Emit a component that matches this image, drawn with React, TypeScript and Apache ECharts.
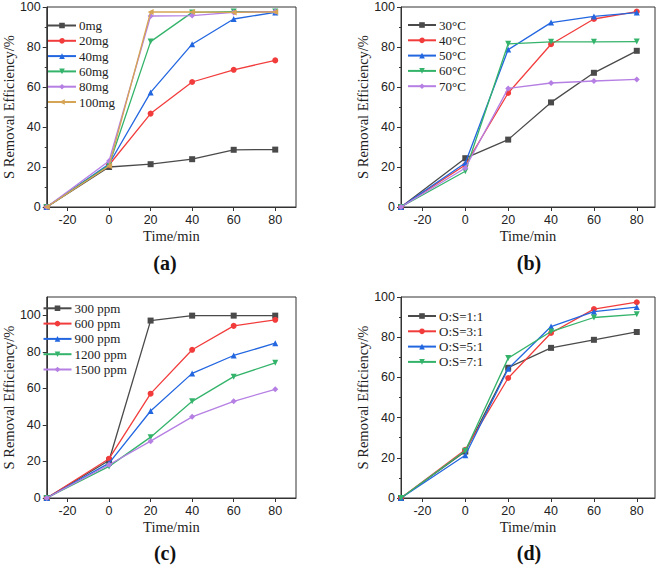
import React, { useEffect, useRef } from "react";
import * as echarts from "echarts";

// ---- data ----
const timeValues = [-30, 0, 20, 40, 60, 80];
const xTicks = [-20, 0, 20, 40, 60, 80];
const yTicks = [0, 20, 40, 60, 80, 100];

const namesA = ["0mg", "20mg", "40mg", "60mg", "80mg", "100mg"];
const mg0 = [0, 20.0, 21.4, 23.9, 28.6, 28.7];
const mg20 = [0, 21.0, 46.7, 62.5, 68.6, 73.3];
const mg40 = [0, 21.5, 57.3, 81.4, 94.0, 97.3];
const mg60 = [0, 21.0, 82.7, 97.3, 97.7, 97.7];
const mg80 = [0, 23.0, 95.5, 95.7, 97.3, 97.7];
const mg100 = [0, 20.5, 97.5, 97.5, 97.3, 97.5];

const namesB = ["30°C", "40°C", "50°C", "60°C", "70°C"];
const t30 = [0, 24.4, 33.7, 52.3, 67.1, 78.1];
const t40 = [0, 21.0, 57.0, 81.4, 94.0, 97.7];
const t50 = [0, 22.0, 78.7, 92.2, 95.3, 97.2];
const t60 = [0, 17.9, 81.6, 82.6, 82.6, 82.7];
const t70 = [0, 19.5, 59.3, 62.0, 63.0, 63.8];

const namesC = ["300 ppm", "600 ppm", "900 ppm", "1200 ppm", "1500 ppm"];
const p300 = [0, 20.5, 97.1, 99.8, 99.8, 99.8];
const p600 = [0, 21.5, 57.1, 81.1, 94.2, 97.5];
const p900 = [0, 19.1, 47.6, 68.2, 78.0, 84.7];
const p1200 = [0, 17.3, 33.3, 52.9, 66.4, 74.0];
const p1500 = [0, 18.2, 31.1, 44.4, 52.9, 59.5];

const namesD = ["O:S=1:1", "O:S=3:1", "O:S=5:1", "O:S=7:1"];
const os1 = [0, 23.1, 64.8, 74.7, 78.7, 82.6];
const os3 = [0, 24.0, 59.7, 82.1, 94.0, 97.4];
const os5 = [0, 21.3, 64.3, 85.3, 92.7, 95.0];
const os7 = [0, 23.5, 69.6, 82.8, 89.8, 91.4];

const panelLabels = ["(a)", "(b)", "(c)", "(d)"];
const xTitle = "Time/min";
const yTitle = "S Removal Efficiency/%";

// ---- styles ----
const COLORS = ["#4a4a4a", "#f23c3c", "#2266e0", "#34b36b", "#b57fe3", "#d6a455"];
const SYMBOLS: [string, number][] = [
  ["rect", 0],
  ["circle", 0],
  ["triangle", 0],
  ["triangle", 180],
  ["diamond", 0],
  ["triangle", 90],
];
const SERIF = "Liberation Serif";
const SANS = "Liberation Sans";

const GRIDS = [
  { left: 40, top: 7, width: 256, height: 200, xMax: 90, yMax: 100 },
  { left: 401, top: 7, width: 254, height: 200, xMax: 88.5, yMax: 100 },
  { left: 40, top: 297, width: 256, height: 201, xMax: 90, yMax: 110 },
  { left: 401, top: 297, width: 254, height: 201, xMax: 88.5, yMax: 100 },
];
const LEGENDS = [
  { left: 47, top: 18 },
  { left: 407, top: 17.5 },
  { left: 42.5, top: 300.8 },
  { left: 407, top: 308.5 },
];
const LABEL_POS = [
  { x: 165, y: 263 },
  { x: 529, y: 263 },
  { x: 165, y: 553 },
  { x: 529, y: 553 },
];

export default function App() {
  const ref = useRef<HTMLDivElement>(null);
  useEffect(() => {
    document.body.style.margin = "0";
    if (!ref.current) return;
    const chart = echarts.init(ref.current, undefined, { renderer: "svg" });

    const panels = [
      { names: namesA, data: [mg0, mg20, mg40, mg60, mg80, mg100] },
      { names: namesB, data: [t30, t40, t50, t60, t70] },
      { names: namesC, data: [p300, p600, p900, p1200, p1500] },
      { names: namesD, data: [os1, os3, os5, os7] },
    ];

    const grid = GRIDS.map((g) => ({
      left: g.left,
      top: g.top,
      width: g.width,
      height: g.height,
      show: true,
      borderColor: "#333",
      borderWidth: 1,
      backgroundColor: "transparent",
    }));

    const xAxis = GRIDS.map((g, i) => ({
      type: "value",
      gridIndex: i,
      min: -30,
      max: g.xMax,
      name: xTitle,
      nameLocation: "middle",
      nameGap: 21,
      nameTextStyle: { fontFamily: SERIF, fontSize: 14.5, fontWeight: "normal", color: "#222" },
      axisLine: { show: true, onZero: false, lineStyle: { color: "#333", width: 1 } },
      axisTick: { show: true, inside: false, length: 4, customValues: xTicks, lineStyle: { color: "#333" } },
      axisLabel: { customValues: xTicks, fontFamily: SANS, fontSize: 12.5, color: "#222", margin: 6 },
      splitLine: { show: false },
    }));

    const yAxis = GRIDS.map((g, i) => ({
      type: "value",
      gridIndex: i,
      min: 0,
      max: g.yMax,
      name: yTitle,
      nameLocation: "middle",
      nameGap: 25,
      nameTextStyle: { fontFamily: SERIF, fontSize: 14.5, fontWeight: "normal", color: "#222" },
      axisLine: { show: true, onZero: false, lineStyle: { color: "#333", width: 1 } },
      axisTick: { show: true, inside: false, length: 4, customValues: yTicks, lineStyle: { color: "#333" } },
      minorTick: { show: g.yMax === 100, splitNumber: 2, length: 2, lineStyle: { color: "#333" } },
      axisLabel: { customValues: yTicks, fontFamily: SANS, fontSize: 12.5, color: "#222", margin: 6 },
      splitLine: { show: false },
    }));

    const series: any[] = [];
    panels.forEach((p, pi) => {
      p.data.forEach((vals, si) => {
        series.push({
          type: "line",
          name: p.names[si],
          xAxisIndex: pi,
          yAxisIndex: pi,
          data: timeValues.map((t, k) => [t, vals[k]]),
          symbol: SYMBOLS[si][0],
          symbolRotate: SYMBOLS[si][1],
          symbolSize: 6,
          color: COLORS[si],
          lineStyle: { width: 1.3, color: COLORS[si] },
          itemStyle: { color: COLORS[si] },
          clip: false,
          z: 2 + si,
        });
      });
    });

    const legend = panels.map((p, pi) => ({
      data: p.names,
      orient: "vertical",
      left: LEGENDS[pi].left,
      top: LEGENDS[pi].top,
      padding: 0,
      itemWidth: 28,
      itemHeight: 7,
      itemGap: 0.3,
      selectedMode: false,
      textStyle: {
        fontFamily: SERIF,
        fontSize: 13,
        fontWeight: "normal",
        color: "#222",
        lineHeight: 15,
        padding: [0, 0, 0, -2],
      },
    }));

    const graphic = panelLabels.map((lbl, i) => ({
      type: "text",
      x: LABEL_POS[i].x,
      y: LABEL_POS[i].y,
      style: {
        text: lbl,
        fontFamily: SERIF,
        fontSize: 20,
        fontWeight: "bold",
        fill: "#111",
        textAlign: "center",
        textVerticalAlign: "middle",
      },
    }));

    chart.setOption({
      animation: false,
      backgroundColor: "#fff",
      grid,
      xAxis,
      yAxis,
      legend,
      series,
      graphic,
    });
    return () => chart.dispose();
  }, []);
  return <div ref={ref} style={{ width: 661, height: 569 }} />;
}
